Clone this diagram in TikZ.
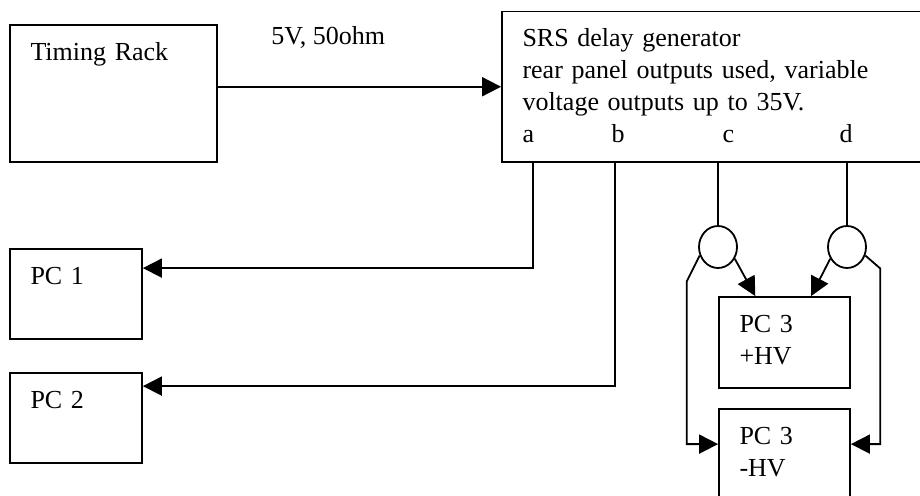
\documentclass[tikz,border=0pt]{standalone}
\usepackage{fontspec}
\setmainfont{Liberation Serif}
\usetikzlibrary{arrows.meta,positioning,shapes.geometric,calc}
\tikzset{
  blk/.style={rectangle,draw=black,line width=0.9pt,inner sep=0pt},
  blktext/.style={anchor=base west,inner sep=0pt,text width=200pt,align=left,
                  font=\fontsize{13pt}{16pt}\selectfont,xshift=10.5pt,yshift=-18pt},
  boxlbl/.style={label={[blktext]north west:#1}},
  arr/.style={-{Triangle[length=9.5pt,width=9.5pt]},line width=0.9pt},
  split/.style={ellipse,draw=black,line width=0.9pt,minimum width=19pt,
                minimum height=21pt,inner sep=0pt},
}

\begin{document}
\begin{tikzpicture}[x=0.5pt,y=-0.5pt,font=\fontsize{13pt}{16pt}\selectfont]
  \clip (0,0) rectangle (920,496);
  \node[blk,minimum width=103.5pt,minimum height=68.5pt,boxlbl={Timing Rack}]
    (rack) at (113.5,93.5) {};
  \node[blk,minimum width=214pt,minimum height=75.25pt,
        boxlbl={SRS delay generator\\rear panel outputs used, variable\\
                voltage outputs up to 35V.\\
                \makebox[44.5pt][l]{a}\makebox[55.5pt][l]{b}\makebox[58.5pt][l]{c}d}]
    (srs) at (716,86.75) {};
  \node[blk,minimum width=66pt,minimum height=45pt,boxlbl={PC 1}] (pc1) at (76,294) {};
  \node[blk,minimum width=66pt,minimum height=45pt,boxlbl={PC 2}] (pc2) at (76,418) {};
  \node[blk,minimum width=65.5pt,minimum height=45.5pt,boxlbl={PC 3\\+HV}]
    (pc3p) at (784.5,342.5) {};
  \node[blk,minimum width=65.5pt,minimum height=45.5pt,boxlbl={PC 3\\-HV}]
    (pc3m) at (784.5,454.5) {};
  \node[split] (splc) at (718,247) {};
  \node[split] (spld) at (847,247) {};
  \coordinate (outa) at ($(srs.south west)+(32,0)$);
  \coordinate (outb) at ($(srs.south west)+(114,0)$);

  \draw[arr] (rack.east |- srs.west)
    -- node[pos=0.186,anchor=base west,inner sep=0pt,yshift=20.9pt] (spec) {5V, 50ohm} (srs.west);
  \draw[arr] (outa) |- ($(pc1.north east)+(0,20)$);
  \draw[arr] (outb) |- ($(pc2.north east)+(0,14)$);
  \draw[line width=0.9pt] (splc.north |- srs.south) -- (splc.north);
  \draw[line width=0.9pt] (spld.north |- srs.south) -- (spld.north);
  \draw[arr] (splc.-35) -- ($(pc3p.north west)!0.28!(pc3p.north east)$);
  \draw[arr] (spld.-145) -- ($(pc3p.north west)!0.70!(pc3p.north east)$);
  \draw[arr] (splc.-155) -- ++(-13,26) |- ($(pc3m.north west)+(0,36)$);
  \draw[arr] (spld.-25) -- ++(15,13) |- ($(pc3m.north east)+(0,36)$);
\end{tikzpicture}
\end{document}
